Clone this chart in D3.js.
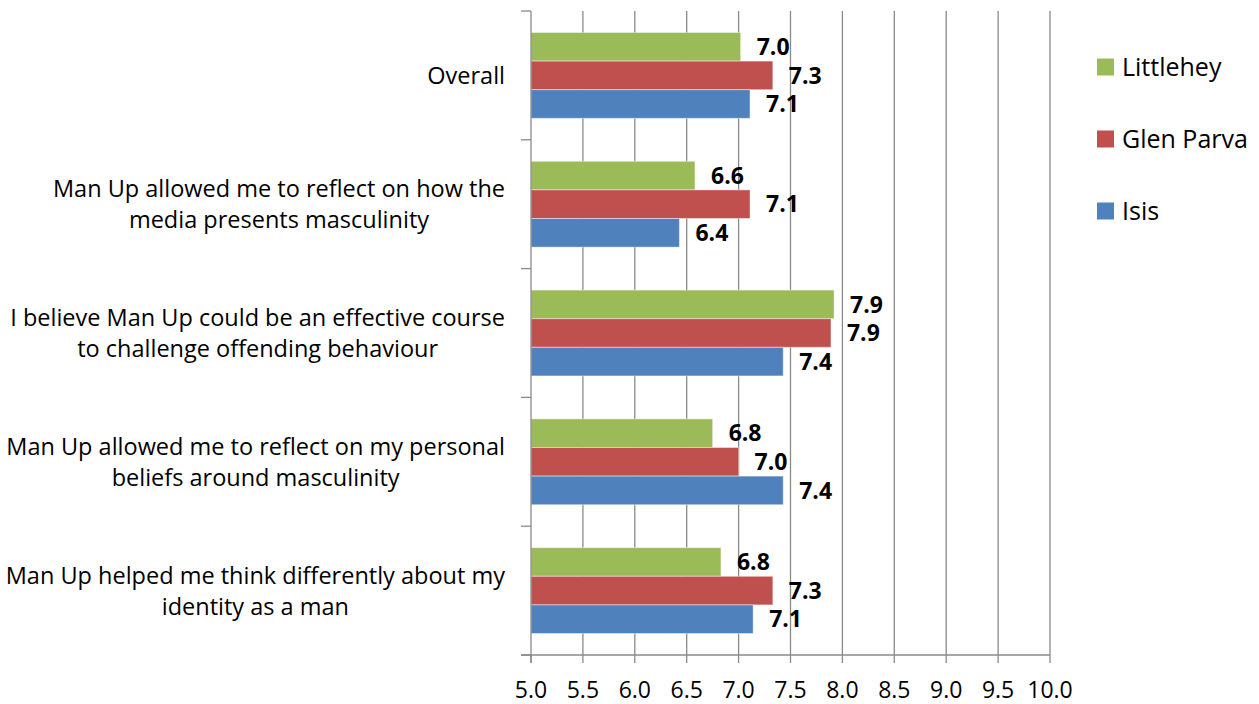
<!DOCTYPE html>
<html><head><meta charset="utf-8">
<script src="https://cdn.jsdelivr.net/npm/d3@7"></script>
<style>body{margin:0;background:#fff}svg{display:block}</style>
</head><body>
<svg id="chart" width="1259" height="704"></svg>
<script>
const categories = [
  ["Overall"],
  ["Man Up allowed me to reflect on how the", "media presents masculinity"],
  ["I believe Man Up could be an effective course", "to challenge offending behaviour"],
  ["Man Up allowed me to reflect on my personal", "beliefs around masculinity"],
  ["Man Up helped me think differently about my", "identity as a man"]
];
const seriesNames = ["Littlehey", "Glen Parva", "Isis"];
const littlehey = [7.02, 6.58, 7.92, 6.75, 6.83];
const glenParva = [7.33, 7.11, 7.89, 7.00, 7.33];
const isis      = [7.11, 6.43, 7.43, 7.43, 7.14];
const xTicks = [5.0, 5.5, 6.0, 6.5, 7.0, 7.5, 8.0, 8.5, 9.0, 9.5, 10.0];
const colors = ["#9BBB59", "#C0504D", "#4F81BD"];

const seriesValues = [littlehey, glenParva, isis];
const FONT = "'Open Sans', 'Noto Sans', sans-serif";
const svg = d3.select("#chart");
const pLeft = 531, pRight = 1050, pTop = 11, pBottom = 655;

const x = d3.scaleLinear().domain([5, 10]).range([pLeft, pRight]);
const y = d3.scaleBand().domain(d3.range(categories.length)).range([pTop, pBottom])
  .paddingInner(1/3).paddingOuter(1/6);
const ys = d3.scaleBand().domain(d3.range(seriesNames.length)).range([0, y.bandwidth()]);
const step = y.step();

// gridlines
svg.append("g").selectAll("line").data(xTicks.slice(1)).join("line")
  .attr("x1", d => x(d)).attr("x2", d => x(d))
  .attr("y1", pTop).attr("y2", pBottom)
  .attr("stroke", "#8a8a8a").attr("stroke-width", 1.3);

// bars
const groups = svg.append("g").selectAll("g").data(categories).join("g")
  .attr("transform", (d, i) => `translate(0,${y(i)})`);
groups.selectAll("rect").data((d, i) => seriesValues.map((s, k) => ({k, v: s[i]}))).join("rect")
  .attr("x", x(5)).attr("y", d => ys(d.k))
  .attr("width", d => x(d.v) - x(5)).attr("height", ys.bandwidth())
  .attr("fill", d => colors[d.k])
  .attr("stroke", "rgba(255,255,255,0.45)").attr("stroke-width", 1);

// data labels
groups.selectAll("text.lbl").data((d, i) => seriesValues.map((s, k) => ({k, v: s[i]}))).join("text")
  .attr("class", "lbl")
  .attr("x", d => x(d.v) + 16).attr("y", d => ys(d.k) + ys.bandwidth() / 2)
  .attr("dy", "0.36em")
  .attr("font-family", FONT).attr("font-weight", "bold").attr("font-size", 23)
  .attr("fill", "#000")
  .text(d => d3.format(".1f")(d.v));

// axes lines
const axisColor = "#8a8a8a";
svg.append("line").attr("x1", pLeft).attr("x2", pLeft).attr("y1", pTop).attr("y2", pBottom + 8)
  .attr("stroke", axisColor).attr("stroke-width", 1.3);
svg.append("line").attr("x1", pLeft - 10).attr("x2", pRight).attr("y1", pBottom).attr("y2", pBottom)
  .attr("stroke", axisColor).attr("stroke-width", 1.3);
// category ticks
svg.append("g").selectAll("line").data(d3.range(categories.length + 1)).join("line")
  .attr("x1", pLeft - 10).attr("x2", pLeft)
  .attr("y1", i => pTop + i * step).attr("y2", i => pTop + i * step)
  .attr("stroke", axisColor).attr("stroke-width", 1.3);
// x ticks
svg.append("g").selectAll("line").data(xTicks).join("line")
  .attr("x1", d => x(d)).attr("x2", d => x(d))
  .attr("y1", pBottom).attr("y2", pBottom + 8)
  .attr("stroke", axisColor).attr("stroke-width", 1.3);
svg.append("g").selectAll("text").data(xTicks).join("text")
  .attr("x", d => x(d)).attr("y", pBottom + 35)
  .attr("dy", "0.36em")
  .attr("text-anchor", "middle")
  .attr("font-family", FONT).attr("font-size", 23).attr("fill", "#000")
  .text(d => d3.format(".1f")(d));

// category labels (centered block, right-aligned to axis)
const lineH = 31;
categories.forEach((lines, i) => {
  const g = svg.append("g");
  const cy = y(i) + y.bandwidth() / 2;
  const texts = lines.map((t, j) => g.append("text")
    .attr("y", cy + (j - (lines.length - 1) / 2) * lineH)
    .attr("dy", "0.36em")
    .attr("text-anchor", "middle")
    .attr("font-family", FONT).attr("font-size", 23.5).attr("fill", "#000")
    .text(t));
  const maxW = d3.max(texts, t => t.node().getComputedTextLength());
  texts.forEach(t => t.attr("x", 505 - maxW / 2));
});

// legend
const legend = svg.append("g").selectAll("g").data(seriesNames).join("g")
  .attr("transform", (d, i) => `translate(1097,${67 + i * 72})`);
legend.append("rect").attr("x", 0).attr("y", -8.5).attr("width", 17).attr("height", 17)
  .attr("fill", (d, i) => colors[i]);
legend.append("text").attr("x", 25).attr("dy", "0.36em")
  .attr("font-family", FONT).attr("font-size", 25).attr("fill", "#000")
  .text(d => d);
</script>
</body></html>
